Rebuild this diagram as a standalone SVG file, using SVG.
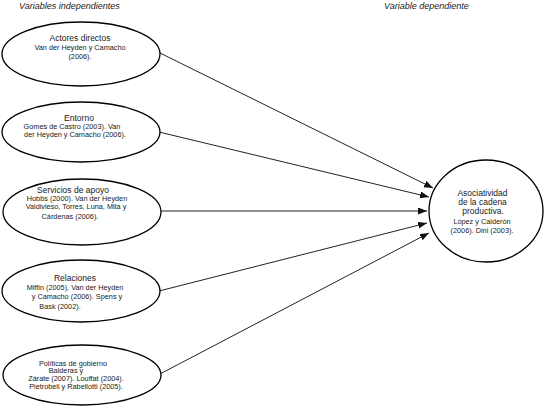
<svg xmlns="http://www.w3.org/2000/svg" width="544" height="406" viewBox="0 0 544 406">
<style>
text{font-family:"Liberation Sans",Arial,sans-serif;fill:#1a1a1a;text-anchor:middle}
.hd{font-size:9px;font-style:italic;text-anchor:start}
.t{font-size:8.5px}
.s{font-size:7.3px}
ellipse{fill:#fff;stroke:#000;stroke-width:1.3}
.c line{stroke:#222;stroke-width:1;marker-end:url(#ah)}
</style>
<defs>
<marker id="ah" markerUnits="userSpaceOnUse" markerWidth="10" markerHeight="8" refX="9" refY="3.5" orient="auto">
<path d="M0,0 L9,3.5 L0,7 z" fill="#111"/>
</marker>
</defs>
<rect width="544" height="406" fill="#fff"/>
<text class="hd" x="19" y="8.5">Variables independientes</text>
<text class="hd" x="384" y="8.5">Variable dependiente</text>
<g class="c" id="connectors">
<line x1="158" y1="52" x2="433" y2="188"/>
<line x1="159" y1="132" x2="429" y2="197"/>
<line x1="160" y1="211" x2="427" y2="211"/>
<line x1="159" y1="291" x2="427" y2="223"/>
<line x1="158" y1="375" x2="429" y2="233"/>
</g>
<g id="n1">
<ellipse cx="81" cy="54" rx="79" ry="32"/>
<text class="t" x="80" y="41">Actores directos</text>
<text class="s" x="80" y="50">Van der Heyden y Camacho</text>
<text class="s" x="80" y="59">(2006).</text>
</g>
<g id="n2">
<ellipse cx="81" cy="132" rx="79" ry="30"/>
<text class="t" x="79" y="121">Entorno</text>
<text class="s" x="72" y="129">Gomes de Castro (2003). Van</text>
<text class="s" x="75" y="137">der Heyden y Camacho (2006).</text>
</g>
<g id="n3">
<ellipse cx="82" cy="212" rx="79" ry="33"/>
<text class="t" x="73" y="193">Servicios de apoyo</text>
<text class="s" x="77" y="201">Hobbs (2000). Van der Heyden</text>
<text class="s" x="76" y="209">Valdivieso, Torres, Luna, Mita y</text>
<text class="s" x="70" y="219">Cárdenas (2006).</text>
</g>
<g id="n4">
<ellipse cx="81" cy="291" rx="79" ry="31"/>
<text class="t" x="75" y="281">Relaciones</text>
<text class="s" x="75" y="290">Miffin (2005). Van der Heyden</text>
<text class="s" x="77" y="299">y Camacho (2006). Spens y</text>
<text class="s" x="60" y="309">Bask (2002).</text>
</g>
<g id="n5">
<ellipse cx="82" cy="375" rx="79" ry="30"/>
<text class="s" x="73" y="365.5">Políticas de gobierno</text>
<text class="s" x="66" y="373">Balderas y</text>
<text class="s" x="76" y="381">Zárate (2007). Louffat (2004).</text>
<text class="s" x="76" y="388.5">Pietrobeli y Rabellotti (2005).</text>
</g>
<g id="n6">
<ellipse cx="486" cy="211" rx="57" ry="51"/>
<text class="t" x="482.5" y="196">Asociatividad</text>
<text class="t" x="482.5" y="205">de la cadena</text>
<text class="t" x="483" y="214">productiva.</text>
<text class="s" x="482" y="223.5">López y Calderón</text>
<text class="s" x="482" y="232.5">(2006). Dini (2003).</text>
</g>
</svg>
